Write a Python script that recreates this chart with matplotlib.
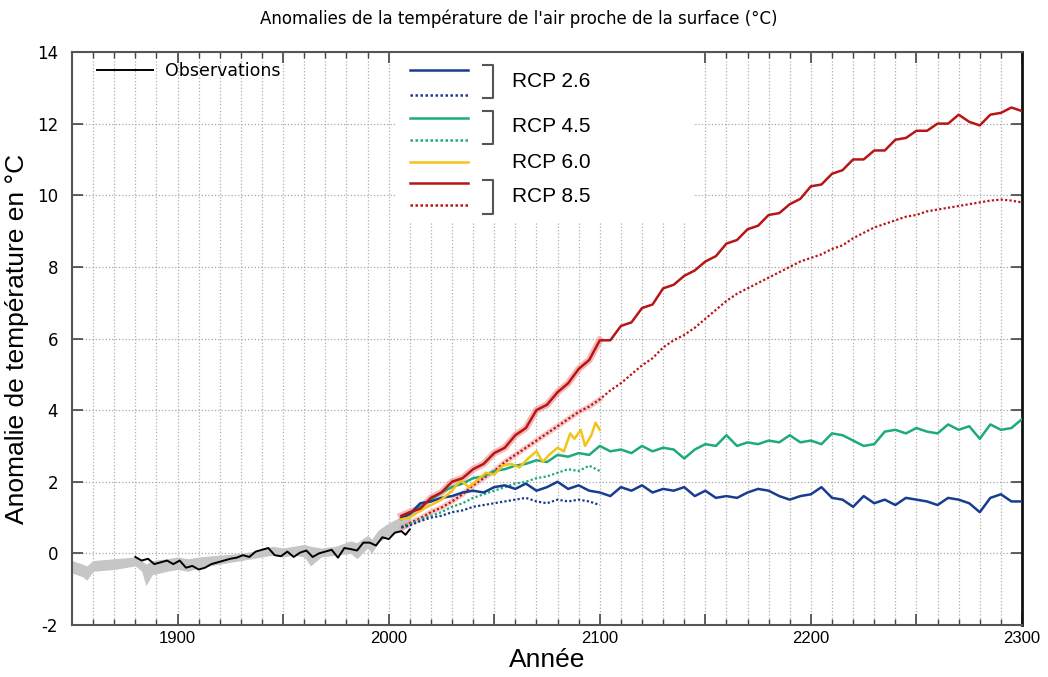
import numpy as np
import matplotlib.pyplot as plt
from matplotlib.lines import Line2D
from matplotlib.patches import Rectangle
from matplotlib.ticker import MultipleLocator, FuncFormatter

plt.rcParams['axes.unicode_minus'] = False

# Observations (courbe noire)
obs_years = [1880, 1883, 1886, 1889, 1892, 1895, 1898, 1901, 1904, 1907, 1910, 1913, 1916,
             1919, 1922, 1925, 1928, 1931, 1934, 1937, 1940, 1943, 1946, 1949, 1952, 1955,
             1958, 1961, 1964, 1967, 1970, 1973, 1976, 1979, 1982, 1985, 1988, 1991, 1994,
             1997, 2000, 2003, 2006, 2008, 2010]
obs_vals = [-0.1, -0.2, -0.15, -0.3, -0.25, -0.2, -0.3, -0.2, -0.4, -0.35, -0.45, -0.4, -0.3,
            -0.25, -0.2, -0.15, -0.12, -0.05, -0.1, 0.05, 0.1, 0.15, -0.05, -0.08, 0.05, -0.1,
            0.02, 0.08, -0.1, 0.0, 0.05, 0.1, -0.12, 0.15, 0.12, 0.08, 0.3, 0.3, 0.22,
            0.45, 0.4, 0.58, 0.62, 0.52, 0.67]

# Enveloppe grise des simulations historiques
hist_years = [1850, 1855, 1857, 1860, 1870, 1880, 1883, 1885, 1888, 1895, 1900, 1905, 1910,
              1920, 1930, 1940, 1945, 1950, 1955, 1960, 1963, 1968, 1975, 1982, 1985, 1990,
              1992, 1995, 2000, 2005, 2010]
hist_low = [-0.55, -0.65, -0.75, -0.5, -0.45, -0.35, -0.5, -0.9, -0.6, -0.5, -0.45, -0.5, -0.4,
            -0.3, -0.2, -0.1, -0.05, -0.1, -0.05, -0.1, -0.35, -0.1, -0.05, 0.0, -0.15, 0.15,
            0.0, 0.3, 0.5, 0.6, 0.75]
hist_high = [-0.2, -0.3, -0.35, -0.2, -0.15, -0.1, -0.2, -0.3, -0.2, -0.15, -0.1, -0.15, -0.1,
             -0.05, 0.0, 0.1, 0.2, 0.15, 0.2, 0.25, 0.2, 0.15, 0.2, 0.35, 0.3, 0.5,
             0.4, 0.65, 0.85, 1.0, 1.05]

# Projections
yrs_long = [2006] + list(range(2010, 2301, 5))
yrs_short = [2006] + list(range(2010, 2101, 5))

rcp85 = [1.05, 1.15, 1.25, 1.55, 1.7, 2.0, 2.1, 2.35, 2.5, 2.8, 2.95, 3.3, 3.5, 4.0, 4.15,
         4.5, 4.75, 5.15, 5.4, 5.95, 5.95, 6.35, 6.45, 6.85, 6.95, 7.4, 7.5, 7.75, 7.9, 8.15,
         8.3, 8.65, 8.75, 9.05, 9.15, 9.45, 9.5, 9.75, 9.9, 10.25, 10.3, 10.6, 10.7, 11.0,
         11.0, 11.25, 11.25, 11.55, 11.6, 11.8, 11.8, 12.0, 12.0, 12.25, 12.05, 11.95, 12.25,
         12.3, 12.45, 12.35]
rcp85_b = [0.72, 0.85, 0.98, 1.15, 1.28, 1.45, 1.65, 1.9, 2.1, 2.3, 2.55, 2.75, 2.95, 3.15,
           3.35, 3.55, 3.75, 3.95, 4.1, 4.3, 4.55, 4.75, 5.0, 5.25, 5.45, 5.75, 5.95, 6.1,
           6.3, 6.55, 6.8, 7.05, 7.25, 7.4, 7.55, 7.7, 7.85, 8.0, 8.15, 8.25, 8.35, 8.5, 8.6,
           8.8, 8.95, 9.1, 9.2, 9.3, 9.4, 9.45, 9.55, 9.6, 9.65, 9.7, 9.75, 9.8, 9.85, 9.88,
           9.85, 9.8]
rcp45 = [0.95, 1.1, 1.3, 1.5, 1.7, 1.85, 1.95, 2.1, 2.15, 2.3, 2.35, 2.45, 2.5, 2.6, 2.55,
         2.75, 2.7, 2.8, 2.75, 3.0, 2.85, 2.9, 2.8, 3.0, 2.85, 2.95, 2.9, 2.65, 2.9, 3.05,
         3.0, 3.3, 3.0, 3.1, 3.05, 3.15, 3.1, 3.3, 3.1, 3.15, 3.05, 3.35, 3.3, 3.15, 3.0,
         3.05, 3.4, 3.45, 3.35, 3.5, 3.4, 3.35, 3.6, 3.45, 3.55, 3.2, 3.6, 3.45, 3.5, 3.75]
rcp45_b = [0.75, 0.82, 0.95, 1.05, 1.15, 1.3, 1.4, 1.55, 1.65, 1.75, 1.85, 1.95, 2.0, 2.1,
           2.15, 2.25, 2.35, 2.3, 2.45, 2.3]
rcp26 = [1.0, 1.1, 1.4, 1.45, 1.55, 1.6, 1.7, 1.75, 1.7, 1.85, 1.9, 1.8, 1.95, 1.75, 1.85,
         2.0, 1.8, 1.9, 1.75, 1.7, 1.6, 1.85, 1.75, 1.9, 1.7, 1.8, 1.75, 1.85, 1.6, 1.75,
         1.55, 1.6, 1.55, 1.7, 1.8, 1.75, 1.6, 1.5, 1.6, 1.65, 1.85, 1.55, 1.5, 1.3, 1.6,
         1.4, 1.5, 1.35, 1.55, 1.5, 1.45, 1.35, 1.55, 1.5, 1.4, 1.15, 1.55, 1.65, 1.45, 1.45]
rcp26_b = [0.72, 0.78, 0.9, 1.0, 1.05, 1.15, 1.2, 1.3, 1.35, 1.4, 1.45, 1.5, 1.55, 1.45,
           1.4, 1.5, 1.45, 1.5, 1.45, 1.35]
rcp60_years = [2006, 2010, 2015, 2020, 2025, 2030, 2034, 2038, 2042, 2046, 2050, 2054, 2058,
               2062, 2066, 2070, 2073, 2076, 2080, 2083, 2086, 2088, 2091, 2093, 2096, 2098, 2100]
rcp60 = [0.95, 1.0, 1.2, 1.35, 1.5, 1.75, 2.05, 1.85, 2.05, 2.25, 2.2, 2.45, 2.5, 2.4, 2.65,
         2.85, 2.55, 2.75, 2.95, 2.85, 3.35, 3.2, 3.45, 3.0, 3.3, 3.65, 3.45]

c_blue = '#173d8f'
c_green = '#1daa7c'
c_yellow = '#f2c41a'
c_red = '#b81616'

fig = plt.figure(figsize=(10.48, 6.77), dpi=100)
ax = fig.add_axes([0.0687, 0.0768, 0.9065, 0.8464])
ax.set_axisbelow(True)

# simulations historiques
ax.fill_between(hist_years, hist_low, hist_high, color='#c6c6c6', lw=0, zorder=2)
ax.plot(obs_years, obs_vals, color='black', lw=1.4, zorder=5)

# enveloppe rose autour de RCP 8.5
ax.plot(yrs_long[:20], rcp85[:20], color='#f08c8c', lw=5, alpha=0.6, zorder=3)
ax.plot(yrs_long[:20], rcp85_b[:20], color='#f4a8a8', lw=4, alpha=0.6, zorder=3)

ax.plot(yrs_long, rcp85_b, color=c_red, lw=1.6, ls=(0, (1, 1)), zorder=4)
ax.plot(yrs_short, rcp45_b, color=c_green, lw=1.6, ls=(0, (1, 1)), zorder=4)
ax.plot(yrs_short, rcp26_b, color=c_blue, lw=1.6, ls=(0, (1, 1)), zorder=4)
ax.plot(yrs_long, rcp45, color=c_green, lw=1.8, zorder=4)
ax.plot(yrs_long, rcp26, color=c_blue, lw=1.8, zorder=4)
ax.plot(rcp60_years, rcp60, color=c_yellow, lw=1.8, zorder=4)
ax.plot(yrs_long, rcp85, color=c_red, lw=1.8, zorder=4)

ax.set_xlim(1850, 2300)
ax.set_ylim(-2, 14)
ax.xaxis.set_major_locator(MultipleLocator(50))
ax.xaxis.set_minor_locator(MultipleLocator(10))
ax.yaxis.set_major_locator(MultipleLocator(2))
ax.xaxis.set_major_formatter(FuncFormatter(lambda v, p: '%d' % v if v % 100 == 0 else ''))
ax.grid(which='minor', axis='x', color='#b0b0b0', ls=':', lw=0.9)
ax.grid(which='major', axis='x', color='#b0b0b0', ls=':', lw=0.9)
ax.grid(which='major', axis='y', color='#a8a8a8', ls=':', lw=0.9)

ax.tick_params(which='both', direction='in', top=True, right=True, colors='#444444')
ax.tick_params(which='major', length=8, width=1.2)
ax.tick_params(which='minor', length=4, width=1.0)
ax.tick_params(axis='y', labelsize=12, labelcolor='black', pad=10)
ax.tick_params(axis='x', labelcolor='black', pad=4)
for lab in ax.get_xticklabels():
    lab.set_fontfamily('Liberation Sans')
    lab.set_fontsize(12)
for s in ax.spines.values():
    s.set_color('#555555')
    s.set_linewidth(1.5)
ax.spines['right'].set_color('#111111')
ax.spines['right'].set_linewidth(2)

ax.set_xlabel('Année', fontsize=19, family='Liberation Sans', labelpad=2)
ax.set_ylabel('Anomalie de température en °C', fontsize=19, family='Liberation Sans', labelpad=6)
fig.text(0.495, 0.973, "Anomalies de la température de l'air proche de la surface (°C)",
         ha='center', va='center', fontsize=12)

# légende observations
ax.legend([Line2D([], [], color='black', lw=1.4)], ['Observations'], loc='upper left',
          bbox_to_anchor=(0.01, 1.01), frameon=False, fontsize=12.5, handlelength=3.2,
          handletextpad=0.7)

# légende RCP (dessinée à la main)
ax.add_patch(Rectangle((0.342, 0.703), 0.312, 0.297, transform=ax.transAxes,
                       facecolor='white', edgecolor='none', zorder=1))
leg_rows = [(c_blue, '-'), (c_blue, ':'), (c_green, '-'), (c_green, ':'),
            (c_yellow, '-'), (c_red, '-'), (c_red, ':')]
leg_y = [0.969, 0.925, 0.885, 0.846, 0.808, 0.771, 0.733]
for (col, st), yy in zip(leg_rows, leg_y):
    ax.plot([0.356, 0.417], [yy, yy], transform=ax.transAxes, color=col, lw=1.8,
            ls=(0, (1, 1)) if st == ':' else '-', zorder=6, clip_on=False)
for top, bot in [(0.977, 0.920), (0.897, 0.839), (0.777, 0.718)]:
    ax.plot([0.433, 0.443, 0.443, 0.433], [top, top, bot, bot], transform=ax.transAxes,
            color='#555555', lw=1.5, zorder=6, clip_on=False)
for txt, yy in [('RCP 2.6', 0.948), ('RCP 4.5', 0.870), ('RCP 6.0', 0.808), ('RCP 8.5', 0.747)]:
    ax.text(0.463, yy, txt, transform=ax.transAxes, fontsize=15, family='Liberation Sans',
            va='center', ha='left', zorder=7)

fig.savefig('out.png', dpi=100)
